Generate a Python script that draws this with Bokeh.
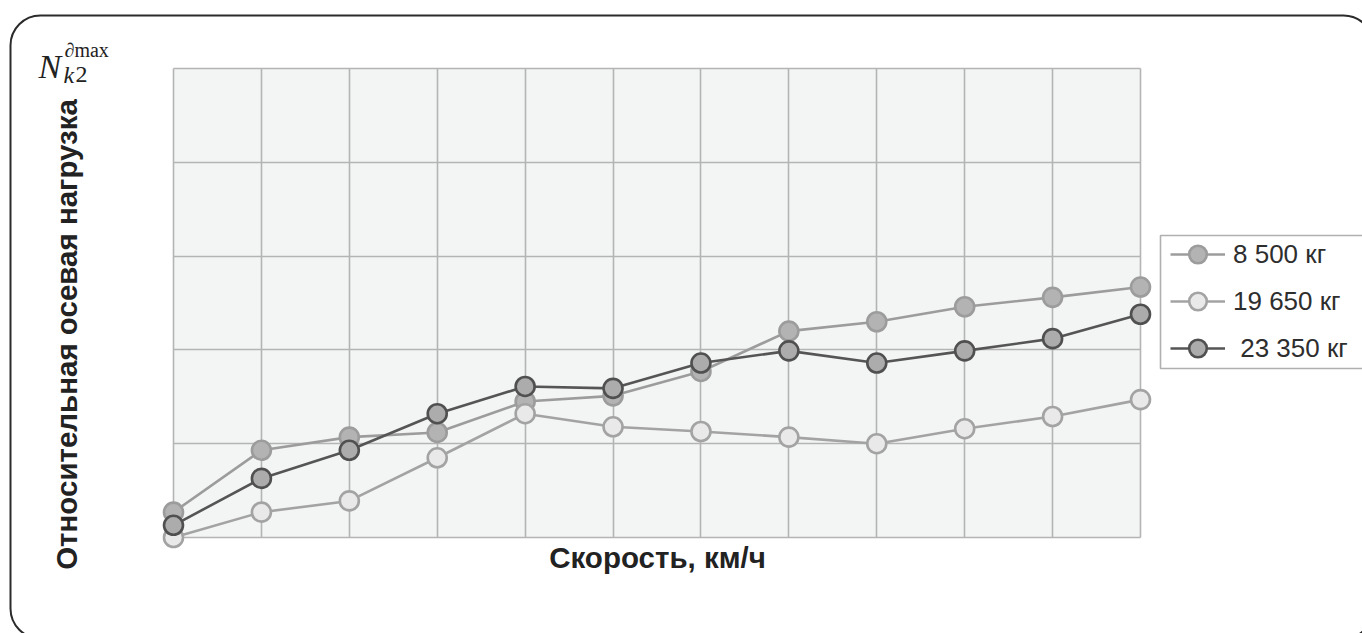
import math
from bokeh.plotting import figure
from bokeh.models import (Range1d, Grid, SingleIntervalTicker, BoxAnnotation, Label,
                          Legend, LegendItem)
from bokeh.embed import file_html
from bokeh.resources import INLINE

# ---- data (y in grid units, 5 grid intervals) ----
speed_points = list(range(12))
series_names = ["8 500 кг", "19 650 кг", " 23 350 кг"]
load_8500 = [0.27, 0.93, 1.07, 1.12, 1.45, 1.51, 1.77, 2.20, 2.30, 2.46, 2.56, 2.67]
load_19650 = [0.00, 0.27, 0.39, 0.85, 1.32, 1.18, 1.13, 1.07, 1.00, 1.16, 1.29, 1.47]
load_23350 = [0.13, 0.63, 0.93, 1.32, 1.61, 1.59, 1.86, 1.99, 1.86, 1.99, 2.12, 2.38]
x_label = "Скорость, км/ч"
y_label = "Относительная осевая нагрузка"

series = [load_8500, load_19650, load_23350]
line_colors = ["#9c9c9c", "#a3a3a3", "#555555"]
fill_colors = ["#b3b3b3", "#e9e9e9", "#acacac"]
edge_colors = ["#9c9c9c", "#a3a3a3", "#505050"]

# plot frame covers the whole canvas; the gridded region is 0..11 x 0..5
W, H = 1362, 633
px_per_x = (1140 - 173) / 11.0
px_per_y = (537 - 68) / 5.0
x_start = -173 / px_per_x
x_end = (W - 173) / px_per_x
y_start = -(H - 537) / px_per_y
y_end = 537 / px_per_y

p = figure(width=W, height=H,
           x_range=Range1d(x_start, x_end), y_range=Range1d(y_start, y_end),
           x_axis_type=None, y_axis_type=None,
           toolbar_location=None, output_backend="svg", min_border=0)
p.background_fill_color = "white"
p.border_fill_color = "white"
p.outline_line_color = None

# plot area background
p.add_layout(BoxAnnotation(left=0, right=11, bottom=0, top=5,
                           fill_color="#f3f4f4", fill_alpha=1.0,
                           line_color=None, level="image"))

xg = Grid(dimension=0, ticker=SingleIntervalTicker(interval=1),
          bounds=(-0.01, 11.01), grid_line_color="#b4b4b4", grid_line_width=1.6)
yg = Grid(dimension=1, ticker=SingleIntervalTicker(interval=1),
          bounds=(-0.01, 5.01), grid_line_color="#b4b4b4", grid_line_width=1.6)
try:
    xg.cross_bounds = (0, 5)
    yg.cross_bounds = (0, 11)
except Exception:
    pass
p.add_layout(xg)
p.add_layout(yg)

items = []
for name, vals, lc, fc, ec in zip(series_names, series, line_colors, fill_colors, edge_colors):
    rl = p.line(speed_points, vals, line_color=lc, line_width=2.6)
    rs = p.scatter(speed_points, vals, size=19, fill_color=fc, line_color=ec, line_width=2.6)
    items.append(LegendItem(label=name, renderers=[rl, rs]))

# legend frame (drawn separately so the glyphs can sit inset from it)
p.add_layout(BoxAnnotation(left=1160, right=1380, top=235, bottom=368,
                           left_units="canvas", right_units="canvas",
                           top_units="canvas", bottom_units="canvas",
                           fill_color="white", fill_alpha=1.0,
                           line_color="#b0b0b0", line_alpha=1.0, line_width=1.6,
                           level="annotation"))

legend = Legend(items=items, location=(1170, H - 370), padding=0, spacing=3,
                glyph_height=44, glyph_width=55, label_height=44, label_standoff=8,
                label_width=140, margin=0,
                label_text_font="Liberation Sans", label_text_font_size="26px",
                label_text_color="#2e2e2e",
                border_line_color=None, background_fill_alpha=0.0)
p.add_layout(legend)

# axis titles
p.add_layout(Label(x=657, y=557, x_units="canvas", y_units="canvas", text=x_label,
                   text_align="center", text_baseline="middle",
                   text_font="Liberation Sans", text_font_style="bold",
                   text_font_size="29.5px", text_color="#222222"))
p.add_layout(Label(x=66, y=334, x_units="canvas", y_units="canvas", text=y_label,
                   angle=math.pi / 2, text_align="center", text_baseline="middle",
                   text_font="Liberation Sans", text_font_style="bold",
                   text_font_size="29.5px", text_color="#222222"))

# symbol N^{∂max}_{k2}
p.add_layout(Label(x=38, y=66, x_units="canvas", y_units="canvas", text="N",
                   text_baseline="alphabetic", text_font="Liberation Serif",
                   text_font_style="italic", text_font_size="34px", text_color="#222222"))
p.add_layout(Label(x=64, y=49, x_units="canvas", y_units="canvas", text="∂max",
                   text_baseline="alphabetic", text_font="Liberation Serif",
                   text_font_size="20px", text_color="#222222"))
p.add_layout(Label(x=63, y=74, x_units="canvas", y_units="canvas", text="k",
                   text_baseline="alphabetic", text_font="Liberation Serif",
                   text_font_style="italic", text_font_size="24px", text_color="#222222"))
p.add_layout(Label(x=75, y=74, x_units="canvas", y_units="canvas", text="2",
                   text_baseline="alphabetic", text_font="Liberation Serif",
                   text_font_size="24px", text_color="#222222"))

# rounded outer frame
p.add_layout(BoxAnnotation(left=10, right=1373, top=15, bottom=638,
                           left_units="canvas", right_units="canvas",
                           top_units="canvas", bottom_units="canvas",
                           fill_alpha=0, line_color="#2b2b2b", line_alpha=1.0,
                           line_width=2, border_radius=30, level="overlay"))

open("out.html", "w").write(file_html(p, INLINE))
